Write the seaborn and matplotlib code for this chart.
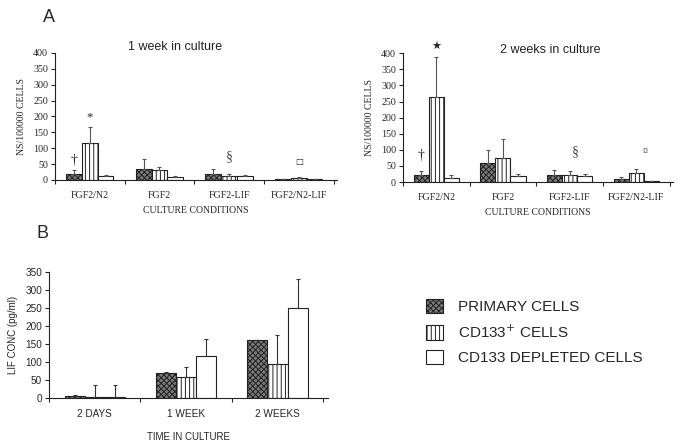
import numpy as np
import pandas as pd
import seaborn as sns
import matplotlib.pyplot as plt
from matplotlib.patches import Patch

# ---- data ----
conditions = ['FGF2/N2', 'FGF2', 'FGF2-LIF', 'FGF2/N2-LIF']
times = ['2 DAYS', '1 WEEK', '2 WEEKS']
cell_keys = ['primary', 'cd133', 'depleted']
cell_labels = ['PRIMARY CELLS', 'CD133$^{+}$ CELLS', 'CD133 DEPLETED CELLS']

# NS / 100000 cells after 1 week (bar value, top of error bar)
w1_primary = [20, 36, 20, 2]
w1_primary_up = [31, 67, 35, 3]
w1_cd133 = [116, 31, 14, 6]
w1_cd133_up = [167, 41, 18, 9]
w1_depleted = [11, 9, 14, 2]
w1_depleted_up = [17, 11, 17, 3]

# NS / 100000 cells after 2 weeks
w2_primary = [23, 59, 23, 10]
w2_primary_up = [34, 99, 36, 15]
w2_cd133 = [263, 76, 23, 29]
w2_cd133_up = [387, 135, 33, 42]
w2_depleted = [13, 19, 19, 2]
w2_depleted_up = [23, 25, 25, 3]

# LIF concentration (pg/ml)
lif_primary = [6, 69, 160]
lif_primary_up = [8, 71, 162]
lif_cd133 = [4, 57, 94]
lif_cd133_up = [36, 87, 174]
lif_depleted = [4, 118, 251]
lif_depleted_up = [35, 164, 330]

SERIF = ['Liberation Serif', 'DejaVu Serif']
SANS = ['Liberation Sans', 'DejaVu Sans']

sns.set_style('ticks')
plt.rcParams['font.family'] = SANS
plt.rcParams['hatch.linewidth'] = 0.7

colors = {'primary': '#7a7a7a', 'cd133': 'white', 'depleted': 'white'}
hatches = ['xxxxxx', '||||', '']


def bar_panel(ax, cats, means, ups, width, tickfont, ylim, yticks, ecol):
    df = pd.DataFrame({
        'cond': np.tile(cats, 3),
        'cell': np.repeat(cell_keys, len(cats)),
        'val': np.concatenate(means),
    })
    sns.barplot(data=df, x='cond', y='val', hue='cell', hue_order=cell_keys,
                palette=colors, saturation=1, width=width, errorbar=None,
                edgecolor='#222222', linewidth=0.8, legend=False, ax=ax)
    for cont, h, m, u in zip(ax.containers, hatches, means, ups):
        xs = []
        for p in cont:
            p.set_hatch(h)
            xs.append(p.get_x() + p.get_width() / 2)
        m = np.array(m)
        u = np.array(u)
        ax.errorbar(xs, m, yerr=[np.zeros(len(m)), u - m], fmt='none',
                    ecolor=ecol, elinewidth=0.8, capsize=1.5, capthick=0.8)
    ax.set_xlim(-0.5, len(cats) - 0.45)
    ax.set_ylim(*ylim)
    ax.set_yticks(yticks)
    ax.set_xticks(np.arange(len(cats) + 1) - 0.5, minor=True)
    ax.tick_params(axis='x', which='major', length=0, pad=8)
    ax.tick_params(axis='x', which='minor', length=3, width=0.8, direction='out')
    ax.tick_params(axis='y', length=3, width=0.8, direction='out', pad=2)
    for lab in ax.get_xticklabels() + ax.get_yticklabels():
        lab.set_fontfamily(tickfont)
        lab.set_fontsize(7.2)
    sns.despine(ax=ax)
    for s in ['left', 'bottom']:
        ax.spines[s].set_linewidth(0.8)
        ax.spines[s].set_color('#222222')


fig = plt.figure(figsize=(6.85, 4.43), dpi=100)

# panel A, 1 week
ax1 = fig.add_axes([0.0803, 0.5937, 0.4117, 0.2867])
bar_panel(ax1, conditions, [w1_primary, w1_cd133, w1_depleted],
          [w1_primary_up, w1_cd133_up, w1_depleted_up], 0.68, SERIF,
          (0, 400), range(0, 401, 50), '#555555')
ax1.set_xlabel('CULTURE CONDITIONS', family=SERIF, fontsize=7, labelpad=4)
ax1.set_ylabel('NS/100000 CELLS', family=SERIF, fontsize=7, labelpad=5)
ax1.text(0.425, 1.02, '1 week in culture', transform=ax1.transAxes,
         ha='center', va='baseline', fontsize=9, color='#222222')
x1 = [p.get_x() + p.get_width() / 2 for p in ax1.containers[0]]
x1b = [p.get_x() + p.get_width() / 2 for p in ax1.containers[1]]
ax1.text(x1[0], 60, '\u2020', ha='center', va='center', fontsize=10, family=SERIF)
ax1.text(x1b[0], 198, '*', ha='center', va='center', fontsize=9, family=SERIF)
ax1.text(2, 74, '\u00a7', ha='center', va='center', fontsize=10, family=SERIF, color='#444444')
ax1.text(3, 58, '\u25a1', ha='center', va='center', fontsize=6, family=['DejaVu Sans'])

# panel A, 2 weeks
ax2 = fig.add_axes([0.5883, 0.589, 0.394, 0.291])
bar_panel(ax2, conditions, [w2_primary, w2_cd133, w2_depleted],
          [w2_primary_up, w2_cd133_up, w2_depleted_up], 0.68, SERIF,
          (0, 400), range(0, 401, 50), '#555555')
ax2.set_xlabel('CULTURE CONDITIONS', family=SERIF, fontsize=7, labelpad=4)
ax2.set_ylabel('NS/100000 CELLS', family=SERIF, fontsize=7, labelpad=5)
ax2.text(0.544, 1.005, '2 weeks in culture', transform=ax2.transAxes,
         ha='center', va='baseline', fontsize=9, color='#222222')
x2 = [p.get_x() + p.get_width() / 2 for p in ax2.containers[0]]
x2b = [p.get_x() + p.get_width() / 2 for p in ax2.containers[1]]
ax2.text(x2[0], 82, '\u2020', ha='center', va='center', fontsize=10, family=SERIF)
ax2.text(x2b[0], 420, '\u2605', ha='center', va='center', fontsize=8,
         family=['DejaVu Sans'], clip_on=False)
ax2.text(2.08, 93, '\u00a7', ha='center', va='center', fontsize=10, family=SERIF, color='#444444')
ax2.text(3.13, 96, '\u00a4', ha='center', va='center', fontsize=7, family=SERIF)

# panel B, LIF concentration
ax3 = fig.add_axes([0.0715, 0.1016, 0.407, 0.2844])
bar_panel(ax3, times, [lif_primary, lif_cd133, lif_depleted],
          [lif_primary_up, lif_cd133_up, lif_depleted_up], 0.66, SANS,
          (0, 350), range(0, 351, 50), '#333333')
ax3.set_xlabel('TIME IN CULTURE', family=SANS, fontsize=7, labelpad=9)
ax3.set_ylabel('LIF CONC (pg/ml)', family=SANS, fontsize=7, labelpad=5)

fig.text(0.063, 0.95, 'A', fontsize=13, va='baseline', family=SANS)
fig.text(0.054, 0.463, 'B', fontsize=13, va='baseline', family=SANS)

handles = [Patch(facecolor=colors[k], edgecolor='#222222', hatch=h, linewidth=0.8)
           for k, h in zip(cell_keys, hatches)]
fig.legend(handles, cell_labels, loc='upper left', bbox_to_anchor=(0.622, 0.326),
           frameon=False, fontsize=11, handlelength=1.1, handleheight=1.1,
           handletextpad=1.0, labelspacing=0.6, borderpad=0, borderaxespad=0,
           prop={'family': SANS, 'size': 11})

fig.savefig('out.png', dpi=100)
